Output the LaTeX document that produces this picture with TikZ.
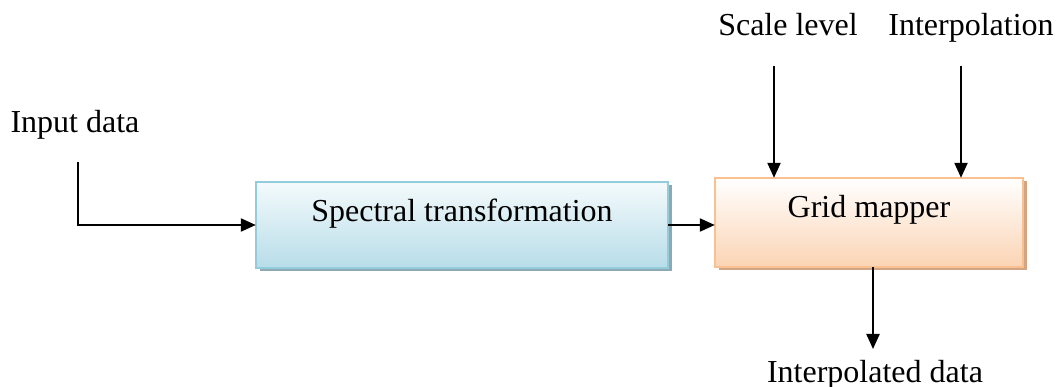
\documentclass[tikz,border=0pt]{standalone}
\usepackage{fontspec}
\setmainfont{Liberation Serif}
\usetikzlibrary{arrows.meta,shadows,calc}
\definecolor{bluetop}{HTML}{F4FAFC}
\definecolor{bluebot}{HTML}{B7DDE8}
\definecolor{blueedge}{HTML}{93CDDD}
\definecolor{blueshadow}{HTML}{8FA9B2}
\definecolor{peachtop}{HTML}{FFFFFF}
\definecolor{peachbot}{HTML}{FBD4B4}
\definecolor{peachedge}{HTML}{FAC090}
\definecolor{peachshadow}{HTML}{D0A585}
\begin{document}
\begin{tikzpicture}[x=1pt,y=-1pt,
  every node/.style={font=\fontsize{32}{38}\selectfont},
  lbl/.style={anchor=base,inner sep=0pt},
  conn/.style={line width=2.2pt,-{Triangle[length=15pt,width=13pt]}},
  bluebox/.style={draw=blueedge,line width=2pt,top color=bluetop,bottom color=bluebot,
    drop shadow={shadow xshift=3.5pt,shadow yshift=-3.5pt,fill=blueshadow,opacity=1}},
  peachbox/.style={draw=peachedge,line width=2pt,top color=peachtop,bottom color=peachbot,
    drop shadow={shadow xshift=3.5pt,shadow yshift=-3.5pt,fill=peachshadow,opacity=1}}]
\useasboundingbox (0,0) rectangle (1063,387);
% boxes
\path[bluebox] (256,182) rectangle (668,268);
\node[inner sep=0pt,minimum width=412pt,minimum height=86pt] (spec) at (462,225) {};
\path[peachbox] (715,178) rectangle (1023,267);
\node[inner sep=0pt,minimum width=308pt,minimum height=89pt] (grid) at (869,222.5) {};
% texts
\node[lbl] (spect) at (462,222) {Spectral transformation};
\node[lbl] (gridt) at (869,218) {Grid mapper};
\node[lbl] (inp) at (75,133) {Input data};
\node[lbl] (scl) at (788,36) {Scale level};
\node[lbl] (itp) at (971,36) {Interpolation};
\node[lbl] (outp) at (875,382) {Interpolated data};
% connector ends
\coordinate (inA) at (78,162);
\coordinate (sA) at (774,66);
\coordinate (iA) at (961,66);
\coordinate (oA) at (873,349);
% connectors
\draw[conn] (inA) |- (spec.west);
\draw[conn] (spec.east) -- (spec.east -| grid.west);
\draw[conn] (sA) -- (sA |- grid.north);
\draw[conn] (iA) -- (iA |- grid.north);
\draw[conn] (oA |- grid.south) -- (oA);
\end{tikzpicture}
\end{document}
